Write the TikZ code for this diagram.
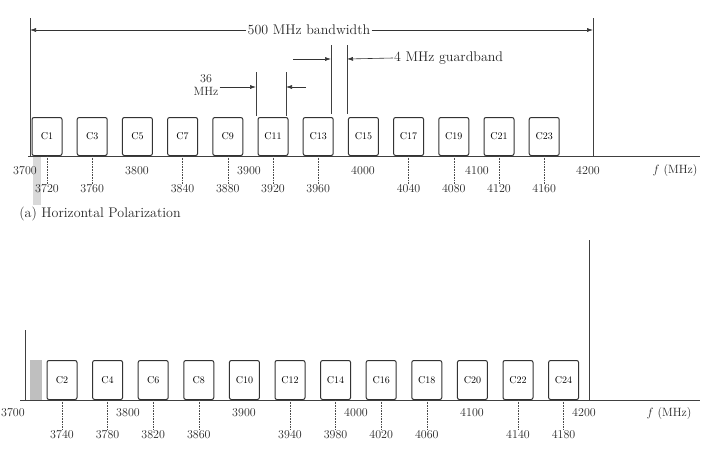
\documentclass[tikz,border=0pt]{standalone}
\usetikzlibrary{arrows.meta}
\begin{document}
\begin{tikzpicture}[x=1pt,y=-1pt,
  chan/.style={draw=black!80, line width=1pt, rounded corners=2pt, minimum width=30pt, anchor=south, inner sep=0pt, font=\fontsize{10}{11}\selectfont},
  lbl/.style={font=\fontsize{12}{13}\selectfont, inner sep=1pt, text=black!85},
  note/.style={font=\fontsize{14}{15}\selectfont, inner sep=1pt, text=black!85},
  tickln/.style={line width=0.6pt, black!70, densely dotted},
  guide/.style={line width=0.8pt, black!75},
  dim/.style={line width=0.6pt, black!80, -{Latex[length=6pt,width=4pt]}}]
\useasboundingbox (0,0) rectangle (701,453);

% ---------------- top panel (horizontal polarization) ----------------
\fill[black!15] (33,157) rectangle (41,205);
\coordinate (ha0) at (28,156);
\coordinate (ha1) at (700,156);
\draw[guide] (ha0) -- (ha1);
\coordinate (hlT) at (30,18);
\coordinate (hlB) at (30,156);
\coordinate (hrT) at (593,18);
\coordinate (hrB) at (593,156);
\draw[guide] (hlT) -- (hlB);
\draw[guide] (hrT) -- (hrB);

\foreach \i/\n in {0/1,1/3,2/5,3/7,4/9,5/11,6/13,7/15,8/17,9/19,10/21,11/23}
  \node[chan, minimum height=38pt] (h\n) at ({47+45.2*\i},156) {C\n};

\foreach \n/\f in {1/3720,3/3760,7/3840,9/3880,11/3920,13/3960,17/4040,19/4080,21/4120,23/4160}{
  \node[lbl] (ht\f) at ([yshift=-33pt]h\n.south) {\f};
  \draw[tickln] (h\n.south) -- (ht\f.north);
}
\node[lbl] (hu3700) at (25,171) {3700};
\node[lbl] (hu3800) at (137,171) {3800};
\node[lbl] (hu3900) at (249,171) {3900};
\node[lbl] (hu4000) at (363,171) {4000};
\node[lbl] (hu4100) at (477,171) {4100};
\node[lbl] (hu4200) at (588,171) {4200};
\node[lbl] (hf) at (675,171) {$f$ (MHz)};

% 500 MHz bandwidth
\node[note] (bw) at (309,30) {500 MHz bandwidth};
\coordinate (bwL) at (30,30);
\coordinate (bwR) at (593,30);
\draw[dim] (bw.west) -- (bwL);
\draw[dim] (bw.east) -- (bwR);

% 36 MHz
\coordinate (c36aT) at (256,72);
\coordinate (c36aB) at (256,116);
\coordinate (c36bT) at (286,72);
\coordinate (c36bB) at (286,116);
\draw[guide] (c36aT) -- (c36aB);
\draw[guide] (c36bT) -- (c36bB);
\node[lbl, align=center] (m36) at (206,85) {36\\MHz};
\coordinate (m36L) at (256,87);
\coordinate (m36Rs) at (306,87);
\coordinate (m36R) at (286,87);
\draw[dim] (m36.east |- m36L) -- (m36L);
\draw[dim] (m36Rs) -- (m36R);

% 4 MHz guardband
\coordinate (g4aT) at (331,45);
\coordinate (g4aB) at (331,114);
\coordinate (g4bT) at (347,45);
\coordinate (g4bB) at (347,114);
\draw[guide] (g4aT) -- (g4aB);
\draw[guide] (g4bT) -- (g4bB);
\coordinate (g4Ls) at (293,59);
\coordinate (g4L) at (331,59);
\draw[dim] (g4Ls) -- (g4L);
\node[note, anchor=west] (gb) at (393,58) {4 MHz guardband};
\coordinate (g4R) at (347,59);
\draw[dim] (gb.west) -- (g4R);

\node[note] (hpol) at (100,214) {(a) Horizontal Polarization};

% ---------------- bottom panel (vertical polarization) ----------------
\fill[black!25] (30,360) rectangle (42,400);
\coordinate (va0) at (20,400);
\coordinate (va1) at (700,400);
\draw[guide] (va0) -- (va1);
\coordinate (vlT) at (25,330);
\coordinate (vlB) at (25,400);
\coordinate (vrT) at (589,240);
\coordinate (vrB) at (589,400);
\draw[guide] (vlT) -- (vlB);
\draw[guide] (vrT) -- (vrB);

\foreach \i/\n in {0/2,1/4,2/6,3/8,4/10,5/12,6/14,7/16,8/18,9/20,10/22,11/24}
  \node[chan, minimum height=39pt] (v\n) at ({62+45.6*\i},400) {C\n};

\foreach \n/\f in {2/3740,4/3780,6/3820,8/3860,12/3940,14/3980,16/4020,18/4060,22/4140,24/4180}{
  \node[lbl] (vt\f) at ([yshift=-35pt]v\n.south) {\f};
  \draw[tickln] (v\n.south) -- (vt\f.north);
}
\node[lbl] (vu3700) at (13,413) {3700};
\node[lbl] (vu3800) at (128,413) {3800};
\node[lbl] (vu3900) at (244,413) {3900};
\node[lbl] (vu4000) at (356,413) {4000};
\node[lbl] (vu4100) at (472,413) {4100};
\node[lbl] (vu4200) at (584,413) {4200};
\node[lbl] (vf) at (669,413) {$f$ (MHz)};
\end{tikzpicture}
\end{document}
